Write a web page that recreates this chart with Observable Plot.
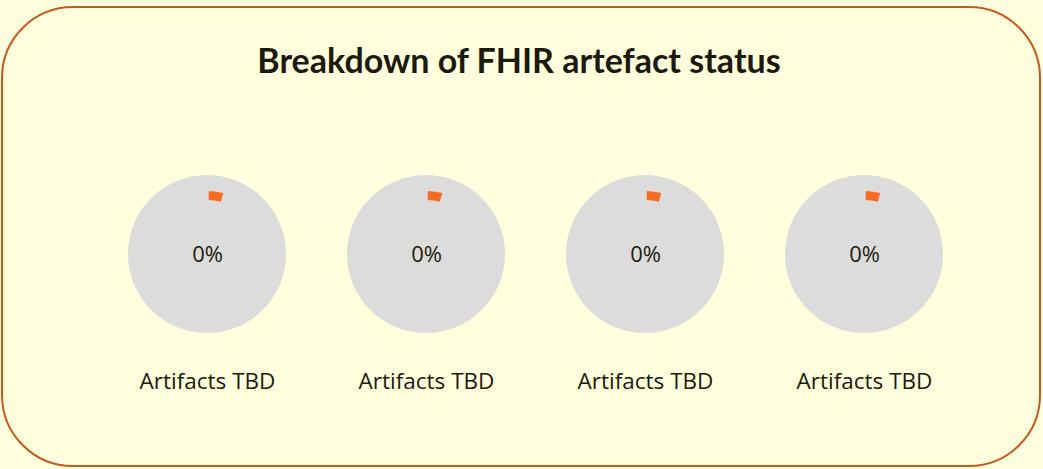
<!DOCTYPE html>
<html>
<head>
<meta charset="utf-8">
<script src="https://cdn.jsdelivr.net/npm/d3@7"></script>
<script src="https://cdn.jsdelivr.net/npm/@observablehq/plot@0.6"></script>
<style>
  html, body { margin: 0; padding: 0; background: #FFFFDD; }
  #wrap { position: relative; width: 1043px; height: 469px; background: #FFFFDD; overflow: hidden; }
  #frame { position: absolute; left: 1px; top: 6px; width: 1036px; height: 457px; border: 2.5px solid #C45A1F; border-radius: 72px; }
  #title { position: absolute; left: 0; top: 39px; width: 1038px; text-align: center; font-family: Lato, "Open Sans", sans-serif; font-weight: 700; font-size: 34px; color: #1C1A0C; }
  #chart { position: absolute; left: 0; top: 0; }
</style>
</head>
<body>
<div id="wrap">
  <div id="frame"></div>
  <div id="title">Breakdown of FHIR artefact status</div>
  <div id="chart"></div>
</div>
<script>
// Data
const categories = ["Artifacts TBD", "Artifacts TBD", "Artifacts TBD", "Artifacts TBD"];
const completedPct = [0, 0, 0, 0];
const remainingPct = [100, 100, 100, 100];
const valueLabels = ["0%", "0%", "0%", "0%"];

const pies = categories.map((c, i) => ({
  i, category: c, done: completedPct[i], rest: remainingPct[i], label: valueLabels[i]
}));

const R = 79;

// custom mark: draws the pie slices (grey remainder + orange marker for completed) with d3.pie/d3.arc
function pieMark(data) {
  return function (index, scales) {
    const g = d3.create("svg:g");
    for (const d of data) {
      const cx = scales.x(d.i);
      const cy = scales.y("pie");
      const gg = g.append("g").attr("transform", `translate(${cx},${cy})`);
      const arcs = d3.pie().sort(null).value(v => v.v)([
        {k: "done", v: d.done},
        {k: "rest", v: d.rest}
      ]);
      gg.selectAll("path.s")
        .data(arcs)
        .join("path")
        .attr("fill", a => a.data.k === "done" ? "#F96B22" : "#DCDCDC")
        .attr("d", d3.arc().innerRadius(0).outerRadius(R));
      // the zero-value completed slice is shown as a small orange tick near the rim
      const startA = arcs[0].startAngle;
      gg.append("path")
        .attr("fill", "#F96B22")
        .attr("d", d3.arc().innerRadius(R - 25).outerRadius(R - 16)
          .startAngle(startA + 0.03).endAngle(startA + 0.26)());
    }
    return g.node();
  };
}

const plot = Plot.plot({
  width: 1043,
  height: 469,
  margin: 0,
  style: { background: "transparent", overflow: "visible" },
  x: { type: "point", domain: [0, 1, 2, 3], range: [206, 864], padding: 0, axis: null },
  y: { type: "point", domain: ["pie", "label"], range: [254, 381], padding: 0, axis: null },
  marks: [
    pieMark(pies),
    Plot.text(pies, {
      x: "i", y: () => "pie", text: "label",
      fontSize: 22, fontFamily: "'Open Sans', sans-serif", fill: "#1C1A0C"
    }),
    Plot.text(pies, {
      x: "i", y: () => "label", text: "category",
      fontSize: 22.5, fontFamily: "'Open Sans', sans-serif", fill: "#1C1A0C"
    })
  ]
});

document.getElementById("chart").appendChild(plot);
</script>
</body>
</html>
